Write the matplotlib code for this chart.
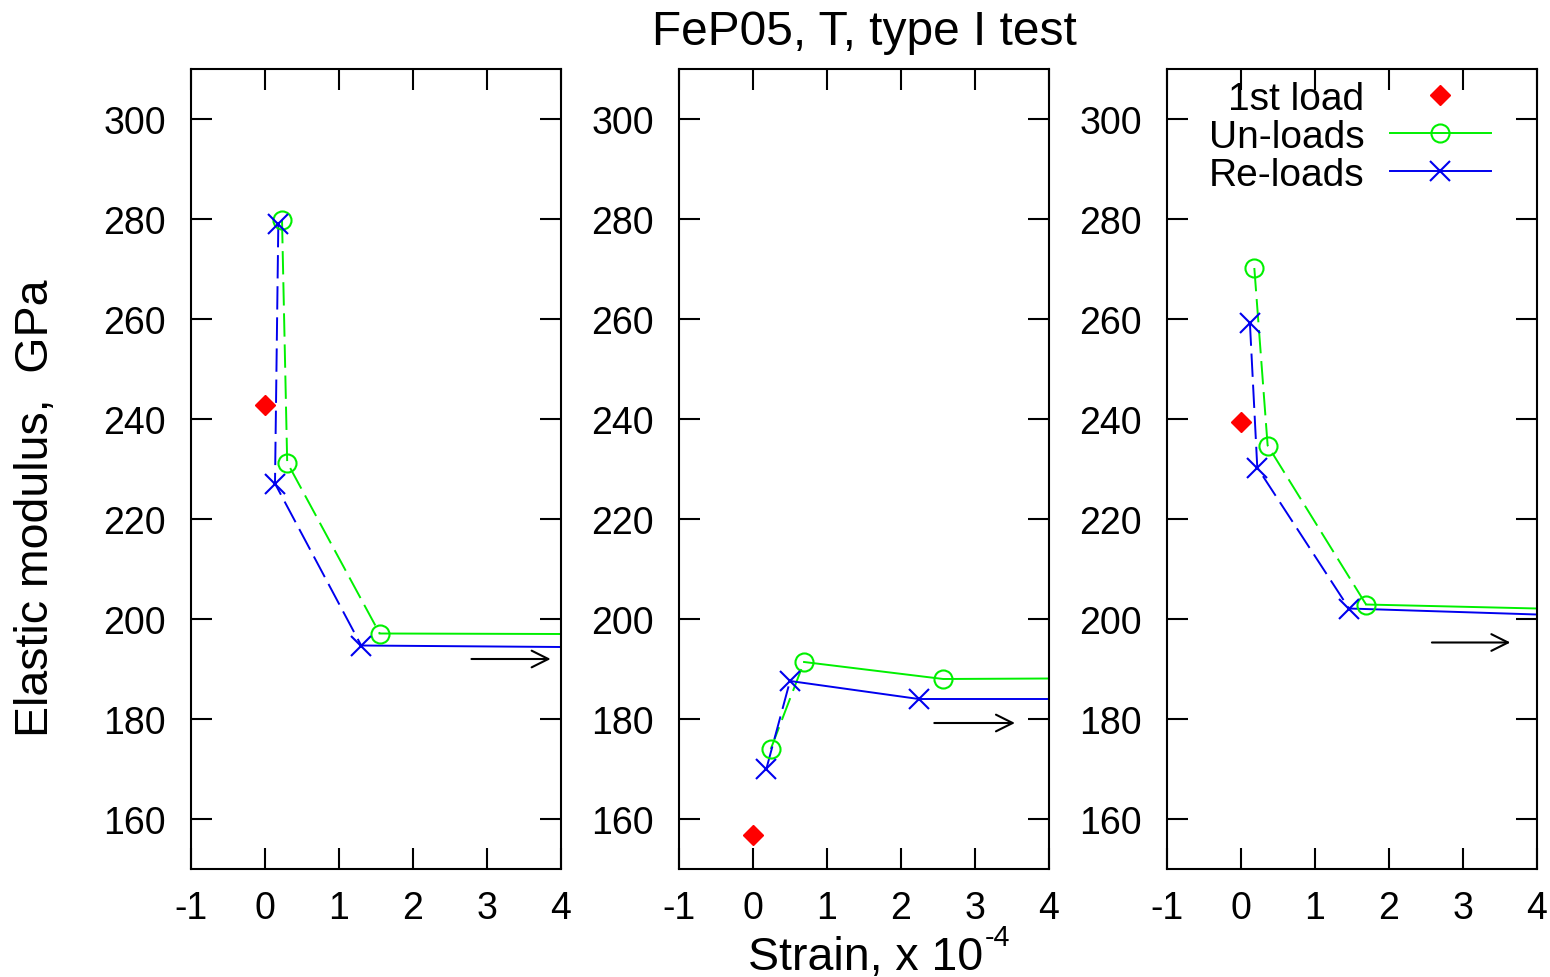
import numpy as np
import matplotlib
matplotlib.use("Agg")
import matplotlib.pyplot as plt
from matplotlib.lines import Line2D

plt.rcParams['font.family'] = ['Liberation Sans', 'DejaVu Sans']
plt.rcParams['axes.unicode_minus'] = False

# strain (x 1e-4) and elastic modulus (GPa) for the three specimens
strain_first = [0.0, 0.0, 0.0]
E_first = [242.9, 156.8, 239.5]

strain_un = [[0.23, 0.30, 1.55], [0.24, 0.69, 2.57], [0.18, 0.36, 1.69]]
E_un = [[279.8, 231.3, 197.1], [174.0, 191.4, 188.0], [270.2, 234.7, 202.9]]
strain_re = [[0.18, 0.135, 1.30], [0.18, 0.50, 2.24], [0.12, 0.22, 1.46]]
E_re = [[279.0, 227.1, 194.7], [170.0, 187.6, 184.0], [259.3, 230.3, 202.1]]

# where the curves leave the frame at strain = 4 (data continue further)
E_un_edge = [197.0, 188.1, 202.1]
E_re_edge = [194.4, 184.0, 200.9]

# arrows pointing to further data
arrow_x0 = [2.79, 2.45, 2.58]
arrow_x1 = [3.86, 3.54, 3.64]
arrow_y = [192.0, 179.2, 195.3]

xticks = [-1, 0, 1, 2, 3, 4]
yticks = [160, 180, 200, 220, 240, 260, 280, 300]

n_dash = [2, 1, 2]  # first segments drawn dashed

W, H = 1550, 978
fig = plt.figure(figsize=(W / 100, H / 100), dpi=100)
lefts = [191, 679, 1167]
FS = 27
LFS = 33.5
green = '#00f000'
blue = '#0000ee'
red = '#ff0000'


def draw_curve(ax, xs, ys, y_edge, nd, color, marker, ms):
    xs = list(xs) + [4.0]
    ys = list(ys) + [y_edge]
    ax.plot(xs[:nd + 1], ys[:nd + 1], color=color, lw=1.4,
            linestyle=(0, (12, 4)), zorder=2)
    ax.plot(xs[nd:], ys[nd:], color=color, lw=1.4, zorder=2)
    ax.plot(xs[:-1], ys[:-1], linestyle='none', marker=marker, ms=ms,
            mfc='none', mec=color, mew=1.5, zorder=3)


for i in range(3):
    ax = fig.add_axes([lefts[i] / W, (H - 870) / H, 370 / W, 800 / H])
    ax.set_xlim(-1, 4)
    ax.set_ylim(150, 310)
    ax.set_xticks(xticks)
    ax.set_yticks(yticks)
    ax.tick_params(direction='in', length=15, width=1.5, labelsize=FS,
                   top=True, right=True)
    ax.tick_params(axis='y', pad=18)
    ax.tick_params(axis='x', pad=15)
    for s in ax.spines.values():
        s.set_linewidth(1.5)

    ax.plot(strain_first[i], E_first[i], linestyle='none', marker='D',
            ms=10.5, color=red, zorder=4)
    draw_curve(ax, strain_un[i], E_un[i], E_un_edge[i], n_dash[i], green, 'o', 13)
    draw_curve(ax, strain_re[i], E_re[i], E_re_edge[i], n_dash[i], blue, 'x', 14)

    ax.annotate('', xy=(arrow_x1[i], arrow_y[i]), xytext=(arrow_x0[i], arrow_y[i]),
                arrowprops=dict(arrowstyle='->,head_length=0.6,head_width=0.3',
                                lw=1.5, color='black', mutation_scale=20,
                                shrinkA=0, shrinkB=0))

    if i == 2:
        handles = [
            Line2D([], [], linestyle='none', marker='D', ms=10.5, color=red),
            Line2D([], [], color=green, lw=1.4, marker='o', ms=13, mfc='none',
                   mec=green, mew=1.5),
            Line2D([], [], color=blue, lw=1.4, marker='x', ms=14, mec=blue, mew=1.5),
        ]
        ax.legend(handles, ['1st load', 'Un-loads', 'Re-loads'], loc='upper right',
                  bbox_to_anchor=(0.875, 0.985), markerfirst=False, frameon=False,
                  fontsize=28, handlelength=2.6, handletextpad=0.65,
                  labelspacing=0.05, borderpad=0, borderaxespad=0)

fig.text(864 / W, (H - 45) / H, 'FeP05, T, type I test', fontsize=34.5,
         ha='center', va='baseline')
fig.text(36 / W, (H - 508) / H, 'Elastic modulus,  GPa', fontsize=LFS,
         rotation=90, ha='center', va='center')

# x label with a superscript exponent, drawn as two texts
xl = fig.text(866 / W, 8 / H, 'Strain, x 10', fontsize=LFS,
              ha='center', va='baseline')
fig.canvas.draw()
bb = xl.get_window_extent()
fig.text(bb.x1 / W + 1 / W, 32 / H, '-4', fontsize=LFS * 0.62,
         ha='left', va='baseline')

fig.savefig('out.png', dpi=100)
